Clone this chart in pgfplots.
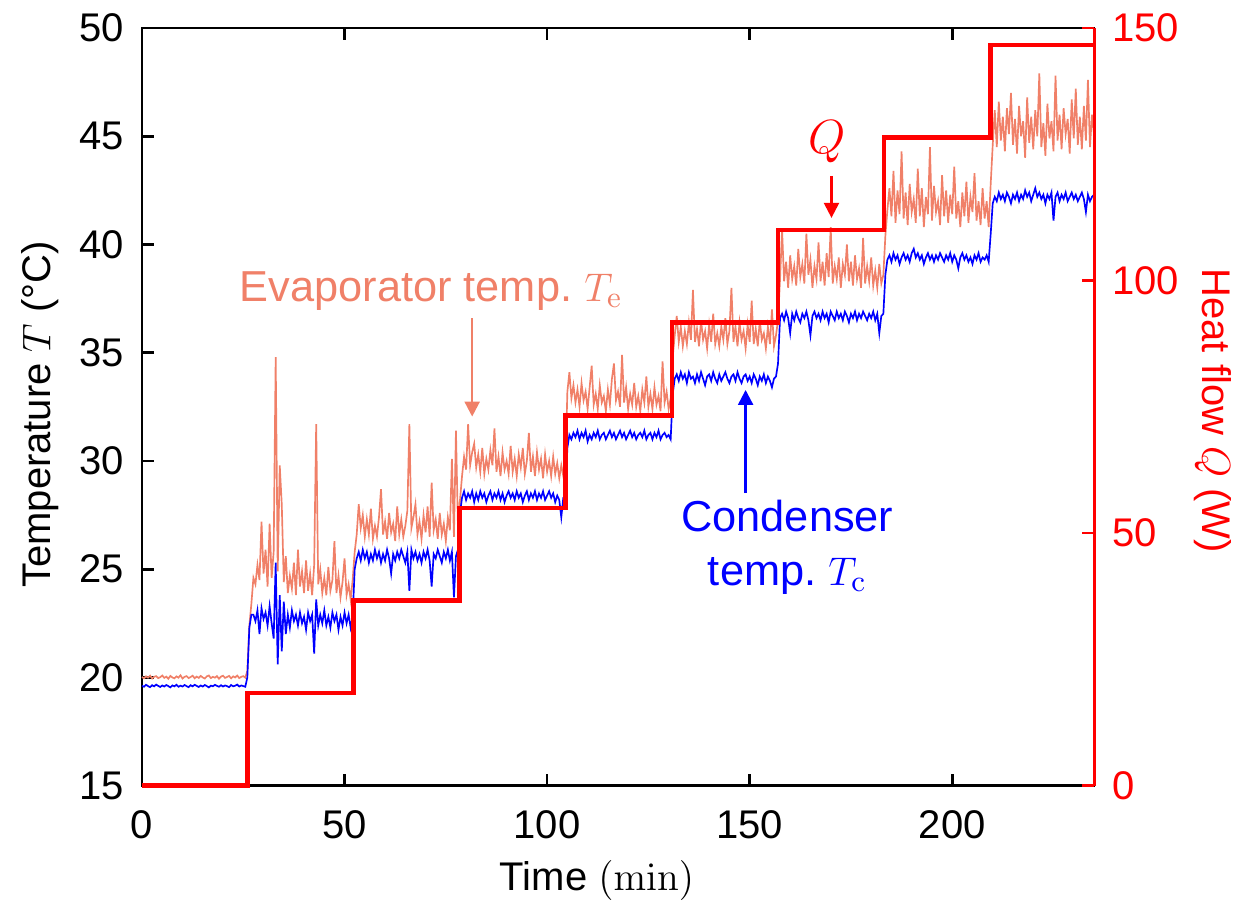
\documentclass[border=0pt]{standalone}
\usepackage[no-math]{fontspec}
\setmainfont{Liberation Sans}
\usepackage{pgfplots}
\pgfplotsset{compat=1.18}
\usepackage{pgfplotstable}
\usetikzlibrary{arrows.meta}
\definecolor{evap}{RGB}{240,128,104}
\definecolor{cond}{RGB}{0,0,255}
\definecolor{qred}{RGB}{255,0,0}

\pgfplotstableread{
t Te Tc
0.0 20.02 19.62
0.5 19.96 19.57
1.0 20.05 19.66
1.5 19.99 19.60
2.0 20.08 19.55
2.5 19.95 19.64
3.0 20.03 19.59
3.5 20.06 19.67
4.0 19.97 19.61
4.5 20.01 19.56
5.0 20.09 19.63
5.5 19.98 19.58
6.0 20.04 19.65
6.5 19.94 19.60
7.0 20.07 19.54
7.5 20.00 19.63
8.0 19.96 19.59
8.5 20.05 19.66
9.0 19.99 19.57
9.5 20.10 19.62
10.0 19.95 19.58
10.5 20.03 19.65
11.0 20.06 19.60
11.5 19.97 19.55
12.0 20.02 19.64
12.5 20.08 19.59
13.0 19.96 19.66
13.5 20.04 19.61
14.0 19.98 19.56
14.5 20.07 19.63
15.0 20.00 19.58
15.5 19.95 19.65
16.0 20.05 19.60
16.5 20.09 19.54
17.0 19.97 19.62
17.5 20.03 19.59
18.0 19.99 19.66
18.5 20.06 19.61
19.0 19.94 19.57
19.5 20.04 19.64
20.0 20.08 19.58
20.5 19.98 19.63
21.0 20.02 19.60
21.5 20.07 19.55
22.0 19.96 19.65
22.5 20.05 19.59
23.0 20.00 19.62
23.5 20.09 19.67
24.0 19.97 19.58
24.5 20.03 19.63
25.0 20.06 19.60
25.5 19.99 19.57
26.0 20.3 20.0
26.5 22.4 22.3
27.0 23.4 22.9
27.5 24.6 22.9
28.0 24.3 22.6
28.5 25.2 23.1
29.0 24.5 22.0
29.5 27.2 23.2
30.0 24.8 22.7
30.5 25.9 23.0
31.0 24.2 22.4
31.5 27.1 23.3
32.0 24.6 22.5
32.5 25.8 21.8
33.0 34.8 25.3
33.5 24.9 20.6
34.0 29.8 23.8
34.5 28.0 21.2
35.0 24.4 23.5
35.5 25.6 22.0
36.0 23.9 22.9
36.5 24.7 22.3
37.0 24.1 23.1
37.5 25.3 22.6
38.0 23.8 22.9
38.5 25.9 22.4
39.0 24.2 23.0
39.5 24.9 22.5
40.0 23.9 22.8
40.5 25.4 22.2
41.0 24.0 23.0
41.5 24.8 22.6
42.0 23.8 22.9
42.5 25.2 21.1
43.0 31.7 23.6
43.5 24.3 22.4
44.0 25.0 22.9
44.5 23.9 22.5
45.0 24.6 23.1
45.5 23.8 22.4
46.0 25.1 22.8
46.5 24.0 22.3
47.0 24.5 23.0
47.5 26.3 22.6
48.0 23.9 22.9
48.5 24.7 22.2
49.0 23.7 22.8
49.5 24.4 22.4
50.0 25.5 23.0
50.5 23.8 22.5
51.0 24.3 22.9
51.5 23.6 22.3
52.0 24.5 22.8
52.5 25.8 25.0
53.0 26.6 25.5
53.5 28.0 25.8
54.0 26.9 25.4
54.5 27.5 25.9
55.0 26.5 25.5
55.5 27.3 25.8
56.0 26.6 25.3
56.5 27.8 25.7
57.0 26.4 25.4
57.5 27.0 25.9
58.0 26.5 25.5
58.5 27.4 25.8
59.0 28.7 25.3
59.5 26.6 25.7
60.0 27.2 25.4
60.5 26.4 25.9
61.0 27.6 25.5
61.5 26.7 24.8
62.0 27.1 25.7
62.5 26.3 25.4
63.0 27.9 25.8
63.5 26.6 25.5
64.0 27.3 25.9
64.5 26.5 25.6
65.0 27.0 25.3
65.5 27.7 25.8
66.0 31.7 24.0
66.5 26.9 25.9
67.0 27.4 25.5
67.5 28.0 25.8
68.0 26.6 25.4
68.5 27.2 25.7
69.0 26.4 25.3
69.5 27.5 25.8
70.0 26.7 25.5
70.5 27.9 25.9
71.0 26.5 25.4
71.5 29.0 24.2
72.0 26.8 25.7
72.5 27.3 25.5
73.0 26.4 25.9
73.5 27.6 25.6
74.0 26.6 25.3
74.5 27.1 25.8
75.0 26.3 25.5
75.5 27.4 25.9
76.0 26.8 25.4
76.5 30.1 25.8
77.0 26.5 23.7
77.5 31.4 25.6
78.0 26.9 25.9
78.5 28.2 27.6
79.0 29.3 28.3
79.5 30.2 28.6
80.0 29.6 28.2
80.5 31.7 28.5
81.0 29.8 28.3
81.5 30.4 28.6
82.0 30.8 28.1
82.5 29.7 28.5
83.0 30.3 28.2
83.5 29.5 28.6
84.0 30.6 28.3
84.5 29.4 28.5
85.0 30.1 28.1
85.5 29.6 28.4
86.0 30.5 28.6
86.5 29.8 28.2
87.0 31.5 28.5
87.5 29.5 28.3
88.0 30.2 28.6
88.5 29.3 28.2
89.0 30.4 28.5
89.5 29.6 28.1
90.0 30.0 28.4
90.5 29.4 28.6
91.0 30.7 28.3
91.5 29.5 28.5
92.0 30.1 28.2
92.5 29.3 28.6
93.0 30.3 28.3
93.5 29.7 28.5
94.0 30.6 28.1
94.5 29.4 28.4
95.0 30.0 28.6
95.5 31.3 28.2
96.0 29.5 28.5
96.5 30.2 28.3
97.0 29.3 28.6
97.5 30.4 28.2
98.0 29.6 28.5
98.5 30.1 28.3
99.0 29.2 28.6
99.5 30.3 28.2
100.0 29.5 28.4
100.5 30.0 28.6
101.0 29.3 28.3
101.5 30.2 28.5
102.0 29.4 28.1
102.5 29.9 28.4
103.0 29.2 28.2
103.5 29.8 27.4
104.0 29.3 28.3
104.5 29.6 28.4
105.0 33.2 30.6
105.5 34.1 31.2
106.0 32.9 31.0
106.5 33.5 31.3
107.0 32.7 31.1
107.5 33.3 31.4
108.0 32.5 31.0
108.5 33.6 31.3
109.0 32.8 31.1
109.5 33.2 31.4
110.0 32.4 30.9
110.5 33.4 31.2
111.0 34.4 31.0
111.5 32.6 31.3
112.0 33.1 31.1
112.5 32.4 31.4
113.0 33.5 31.0
113.5 32.7 31.2
114.0 33.0 31.3
114.5 32.3 31.0
115.0 33.3 31.2
115.5 32.6 31.4
116.0 33.8 31.1
116.5 34.5 31.3
117.0 32.8 31.0
117.5 33.2 31.2
118.0 32.5 31.4
118.5 34.9 31.1
119.0 32.7 31.3
119.5 33.4 31.0
120.0 32.4 31.2
120.5 33.1 31.4
121.0 32.6 31.1
121.5 33.6 31.3
122.0 32.5 31.0
122.5 33.0 31.2
123.0 32.3 31.3
123.5 33.3 31.1
124.0 32.7 31.4
124.5 33.9 31.0
125.0 32.5 31.2
125.5 33.1 31.3
126.0 32.4 31.0
126.5 33.4 31.3
127.0 32.6 31.1
127.5 33.0 31.4
128.0 32.3 31.0
128.5 34.6 31.2
129.0 32.7 31.3
129.5 33.2 31.1
130.0 32.4 31.2
130.5 32.9 31.0
131.0 34.8 33.1
131.5 35.8 33.8
132.0 36.7 34.0
132.5 35.5 33.7
133.0 36.2 34.1
133.5 35.3 33.8
134.0 36.0 34.0
134.5 35.4 33.6
135.0 36.4 34.1
135.5 35.6 33.8
136.0 37.9 33.9
136.5 35.5 33.6
137.0 36.1 34.0
137.5 35.3 33.7
138.0 36.5 34.1
138.5 35.6 33.8
139.0 36.0 33.5
139.5 35.2 33.9
140.0 36.3 34.0
140.5 35.5 33.7
141.0 36.8 34.1
141.5 35.4 33.8
142.0 35.9 33.6
142.5 35.3 34.0
143.0 36.2 33.7
143.5 35.6 33.9
144.0 36.6 34.1
144.5 35.4 33.8
145.0 36.0 33.6
145.5 38.0 33.9
146.0 35.5 34.0
146.5 36.2 33.7
147.0 35.3 34.1
147.5 36.4 33.8
148.0 35.6 33.6
148.5 36.0 33.9
149.0 35.2 34.0
149.5 36.3 33.7
150.0 35.5 33.9
150.5 37.4 33.6
151.0 35.4 34.0
151.5 36.1 33.8
152.0 35.3 33.5
152.5 36.5 33.9
153.0 35.6 33.7
153.5 35.9 34.0
154.0 35.2 33.6
154.5 36.2 33.9
155.0 35.4 33.7
155.5 37.0 33.4
156.0 35.3 33.8
156.5 35.8 33.9
157.0 36.5 34.5
157.5 38.4 36.6
158.0 40.7 36.8
158.5 38.3 36.5
159.0 39.2 36.9
159.5 38.0 36.6
160.0 39.5 35.9
160.5 38.4 36.8
161.0 39.0 36.5
161.5 38.1 36.9
162.0 39.8 36.6
162.5 38.5 36.4
163.0 39.1 36.8
163.5 38.2 36.6
164.0 40.5 36.9
164.5 38.6 36.5
165.0 39.3 35.8
165.5 38.0 36.7
166.0 39.0 36.9
166.5 38.4 36.6
167.0 40.1 36.8
167.5 38.3 36.5
168.0 39.2 36.9
168.5 38.1 36.6
169.0 39.6 36.8
169.5 38.5 36.4
170.0 40.8 36.9
170.5 38.2 36.7
171.0 39.0 36.5
171.5 38.4 36.9
172.0 39.4 36.6
172.5 38.0 36.8
173.0 39.1 36.5
173.5 38.6 36.9
174.0 40.0 36.7
174.5 38.3 36.4
175.0 39.2 36.8
175.5 38.1 36.6
176.0 39.5 36.9
176.5 38.4 36.5
177.0 38.9 36.8
177.5 38.0 36.6
178.0 40.3 36.9
178.5 38.2 36.7
179.0 39.0 36.5
179.5 38.3 36.8
180.0 39.4 36.6
180.5 38.1 36.9
181.0 38.8 36.5
181.5 38.0 36.8
182.0 39.1 35.9
182.5 38.2 36.7
183.0 38.6 36.8
183.5 40.4 38.6
184.0 41.6 39.3
184.5 42.6 39.5
185.0 41.3 39.2
185.5 43.4 39.6
186.0 41.0 39.3
186.5 42.5 39.5
187.0 41.4 39.1
187.5 44.3 39.4
188.0 41.2 39.6
188.5 42.4 39.3
189.0 40.9 39.5
189.5 42.8 39.2
190.0 41.5 39.6
190.5 42.1 39.8
191.0 41.0 39.4
191.5 43.5 39.6
192.0 41.3 39.3
192.5 42.6 39.5
193.0 40.8 39.1
193.5 42.2 39.4
194.0 41.4 39.6
194.5 44.5 39.3
195.0 41.1 39.5
195.5 42.7 39.2
196.0 41.5 39.5
196.5 42.0 39.3
197.0 40.9 39.6
197.5 43.2 39.4
198.0 41.3 39.2
198.5 42.5 39.5
199.0 41.0 39.3
199.5 42.3 39.6
200.0 41.4 39.2
200.5 43.6 39.5
201.0 41.2 39.3
201.5 42.0 38.9
202.0 40.8 39.4
202.5 42.4 39.6
203.0 41.3 39.3
203.5 42.9 39.5
204.0 41.0 39.2
204.5 42.2 39.4
205.0 41.5 39.1
205.5 43.3 39.5
206.0 41.1 39.3
206.5 42.0 39.6
207.0 40.9 39.2
207.5 42.6 39.4
208.0 41.2 39.3
208.5 42.0 39.5
209.0 40.8 39.2
209.5 42.8 40.5
210.0 44.6 41.9
210.5 46.2 42.2
211.0 44.5 42.0
211.5 46.6 42.4
212.0 44.8 42.1
212.5 45.9 42.3
213.0 44.3 42.0
213.5 46.3 42.4
214.0 45.1 42.2
214.5 47.0 41.9
215.0 44.6 42.3
215.5 45.8 42.1
216.0 44.2 42.4
216.5 46.4 42.0
217.0 45.0 42.3
217.5 45.7 42.1
218.0 44.0 42.5
218.5 46.8 42.2
219.0 44.7 42.4
219.5 45.9 42.0
220.0 44.4 42.3
220.5 46.2 42.6
221.0 45.0 42.2
221.5 47.9 42.4
222.0 44.5 42.1
222.5 45.6 42.3
223.0 44.1 41.9
223.5 46.5 42.3
224.0 44.9 42.1
224.5 45.7 42.4
225.0 44.3 41.1
225.5 47.8 42.2
226.0 44.8 42.4
226.5 46.0 42.0
227.0 44.4 42.3
227.5 46.3 42.1
228.0 45.1 42.4
228.5 45.8 42.0
229.0 44.2 42.2
229.5 46.7 42.4
230.0 44.9 42.1
230.5 47.2 42.3
231.0 44.6 42.0
231.5 45.9 42.2
232.0 44.4 42.4
232.5 46.4 42.1
233.0 44.8 41.5
233.5 47.6 42.3
234.0 44.5 42.0
234.5 46.0 42.2
235.0 45.1 42.3
}\tempdata

\pgfplotstableread{
t Q
0 0
26.0 18.33
52.2 36.67
78.4 55
104.6 73.33
130.8 91.67
157.0 110
183.2 128.33
209.4 146.67
235 146.67
}\qdata

\begin{document}
\begin{tikzpicture}
\path[use as bounding box] (-42.6pt,-38.2pt) rectangle (329.4pt,235.7pt);
\begin{axis}[
  at={(0pt,0pt)}, anchor=south west,
  scale only axis, width=285.6pt, height=227.3pt,
  xmin=0, xmax=235, ymin=15, ymax=50,
  xtick={0,50,100,150,200}, ytick={15,20,25,30,35,40,45,50},
  ytick pos=left, xtick pos=both,
  tick align=inside, major tick length=3.5pt,
  axis line style={black, line width=0.8pt},
  tick style={black, line width=0.8pt},
  tick label style={font=\fontsize{12}{14}\selectfont},
  /pgf/number format/assume math mode=true,
  xticklabel style={yshift=-4pt},
  yticklabel style={xshift=-2pt},
  clip=false,
]
\addplot[evap, line width=0.5pt] table[x=t, y=Te]{\tempdata};
\addplot[cond, line width=0.5pt] table[x=t, y=Tc]{\tempdata};
\node[rotate=90, font=\fontsize{12}{14}\selectfont] at (rel axis cs:-0.107,0.49) {Temperature $T$ (°C)};
\node[font=\fontsize{12}{14}\selectfont] at (rel axis cs:0.478,-0.125) {Time $\mathrm{(min)}$};
\node[evap, anchor=base, font=\fontsize{13}{15}\selectfont] at (axis cs:71.4,37.36) {Evaporator temp.\ $T_\mathrm{e}$};
\draw[evap, line width=0.7pt, -{Triangle[width=4.5pt,length=4.5pt]}] (axis cs:81.5,36.6) -- (axis cs:81.5,32.05);
\node[qred, font=\fontsize{14}{16}\selectfont] at (axis cs:169.2,44.74) {$Q$};
\draw[qred, line width=0.7pt, -{Triangle[width=4.5pt,length=4.5pt]}] (axis cs:170.2,43.17) -- (axis cs:170.2,41.23);
\node[cond, anchor=base, font=\fontsize{13}{15}\selectfont] at (axis cs:159.3,26.72) {Condenser};
\node[cond, anchor=base, font=\fontsize{13}{15}\selectfont] at (axis cs:159.3,24.27) {temp.\ $T_\mathrm{c}$};
\draw[cond, line width=0.7pt, -{Triangle[width=4.5pt,length=4.5pt]}] (axis cs:149.0,28.52) -- (axis cs:149.0,33.28);
\end{axis}
\begin{axis}[
  at={(0pt,0pt)}, anchor=south west,
  scale only axis, width=285.6pt, height=227.3pt,
  xmin=0, xmax=235, ymin=0, ymax=150,
  axis x line=none, axis y line*=right,
  y axis line style={-, qred, line width=0.9pt},
  ytick={0,50,100,150},
  tick align=inside, major tick length=3.5pt,
  tick style={qred, line width=0.8pt},
  tick label style={font=\fontsize{12}{14}\selectfont},
  /pgf/number format/assume math mode=true,
  yticklabel style={qred, xshift=2pt},
  clip=false,
]
\addplot[qred, line width=1.35pt, const plot] table[x=t, y=Q]{\qdata};
\node[rotate=-90, qred, font=\fontsize{12}{14}\selectfont] at (rel axis cs:1.125,0.495) {Heat flow $Q$ (W)};
\end{axis}
\end{tikzpicture}
\end{document}
